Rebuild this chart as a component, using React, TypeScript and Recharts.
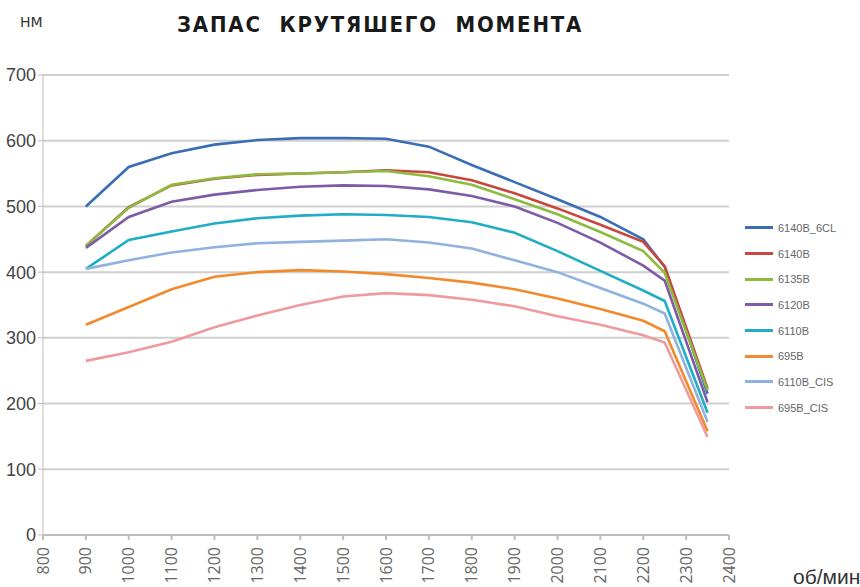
import { LineChart, Line, XAxis, YAxis, CartesianGrid, Legend } from 'recharts';

const RPM = [900, 1000, 1100, 1200, 1300, 1400, 1500, 1600, 1700, 1800, 1900, 2000, 2100, 2200, 2250, 2350];
const X_TICKS = [800, 900, 1000, 1100, 1200, 1300, 1400, 1500, 1600, 1700, 1800, 1900, 2000, 2100, 2200, 2300, 2400];
const Y_TICKS = [0, 100, 200, 300, 400, 500, 600, 700];

const S_6140B_6CL = [500, 560, 581, 594, 601, 604, 604, 603, 591, 563, 537, 511, 484, 450, 408, 215];
const S_6140B = [440, 499, 532, 542, 548, 550, 552, 555, 552, 540, 520, 497, 472, 446, 409, 223];
const S_6135B = [440, 498, 533, 543, 549, 550, 552, 554, 546, 533, 511, 488, 461, 432, 399, 220];
const S_6120B = [437, 484, 507, 518, 525, 530, 532, 531, 526, 516, 500, 475, 445, 410, 387, 202];
const S_6110B = [405, 449, 462, 474, 482, 486, 488, 487, 484, 476, 460, 432, 402, 372, 356, 186];
const S_695B = [320, 347, 374, 393, 400, 403, 401, 397, 391, 384, 374, 360, 344, 326, 310, 158];
const S_6110B_CIS = [405, 418, 430, 438, 444, 446, 448, 450, 445, 436, 418, 400, 376, 352, 337, 172];
const S_695B_CIS = [265, 278, 294, 316, 334, 350, 363, 368, 365, 358, 348, 333, 320, 304, 293, 149];

const SERIES = [
  { key: '6140B_6CL', values: S_6140B_6CL, color: '#3a6eb4' },
  { key: '6140B', values: S_6140B, color: '#c9473f' },
  { key: '6135B', values: S_6135B, color: '#8cbb40' },
  { key: '6120B', values: S_6120B, color: '#7d5ba6' },
  { key: '6110B', values: S_6110B, color: '#21adc3' },
  { key: '695B', values: S_695B, color: '#f08a2c' },
  { key: '6110B_CIS', values: S_6110B_CIS, color: '#90b2e0' },
  { key: '695B_CIS', values: S_695B_CIS, color: '#ef9a9c' },
];

const data = RPM.map((rpm, i) => {
  const row: Record<string, number> = { rpm };
  SERIES.forEach((s) => {
    row[s.key] = s.values[i];
  });
  return row;
});

const XTick = ({ x, y, payload }: { x?: number; y?: number; payload?: { value: number } }) => (
  <text
    x={x}
    y={(y ?? 0) + 5}
    transform={`rotate(-90, ${x}, ${(y ?? 0) + 5})`}
    textAnchor="end"
    dy="0.35em"
    fontFamily="'Open Sans', sans-serif"
    fontSize={16}
    fill="#666"
  >
    {payload?.value}
  </text>
);

// legend keeps the series order (recharts sorts by name otherwise)
const renderLegend = () => (
  <div>
    {SERIES.map((s) => (
      <div key={s.key} style={{ display: 'flex', alignItems: 'center', height: 25.7 }}>
        <div style={{ width: 28, height: 3, background: s.color, marginRight: 5 }} />
        <span style={{ fontFamily: "'Liberation Sans Narrow', sans-serif", fontSize: 11, color: '#666' }}>
          {s.key}
        </span>
      </div>
    ))}
  </div>
);

export default function App() {
  return (
    <div style={{ position: 'absolute', left: 0, top: 0, width: 860, height: 587, background: '#fff' }}>
      <div
        style={{
          position: 'absolute',
          left: 20,
          top: 15,
          fontFamily: "'DejaVu Sans', sans-serif",
          fontSize: 14,
          lineHeight: '14px',
          color: '#333',
        }}
      >
        НМ
      </div>
      <div
        style={{
          position: 'absolute',
          left: 177,
          top: 14,
          fontFamily: "'DejaVu Sans Condensed', 'DejaVu Sans', sans-serif",
          fontWeight: 'bold',
          fontSize: 22,
          lineHeight: '22px',
          letterSpacing: 1.8,
          wordSpacing: 9,
          color: '#1a1a1a',
          whiteSpace: 'nowrap',
        }}
      >
        ЗАПАС КРУТЯШЕГО МОМЕНТА
      </div>
      <LineChart width={860} height={587} data={data} margin={{ top: 75, right: 131, bottom: 0, left: 0 }}>
        <CartesianGrid vertical={false} stroke="#cfcfcf" strokeWidth={2} />
        <XAxis
          dataKey="rpm"
          type="number"
          domain={[800, 2400]}
          ticks={X_TICKS}
          interval={0}
          height={52}
          tick={<XTick />}
          tickSize={5}
          stroke="#bdbdbd"
          strokeWidth={2}
          label={({ viewBox }: { viewBox?: { x: number; y: number; width: number } }) => (
            <text
              x={(viewBox?.x ?? 0) + (viewBox?.width ?? 0) + 64}
              y={(viewBox?.y ?? 0) + 49}
              fontFamily="'Liberation Sans Narrow', sans-serif"
              fontSize={21}
              fill="#333"
            >
              об/мин
            </text>
          )}
        />
        <YAxis
          type="number"
          domain={[0, 700]}
          ticks={Y_TICKS}
          width={43}
          tickSize={5}
          stroke="#bdbdbd"
          tick={{ fontFamily: "'Liberation Sans Narrow', sans-serif", fontSize: 18, fill: '#444' }}
        />
        <Legend
          layout="vertical"
          align="center"
          verticalAlign="middle"
          content={renderLegend}
          wrapperStyle={{ left: 745, top: 215, width: 115 }}
        />
        {SERIES.map((s) => (
          <Line
            key={s.key}
            type="linear"
            dataKey={s.key}
            name={s.key}
            stroke={s.color}
            strokeWidth={2.6}
            dot={false}
            isAnimationActive={false}
          />
        ))}
      </LineChart>
    </div>
  );
}
